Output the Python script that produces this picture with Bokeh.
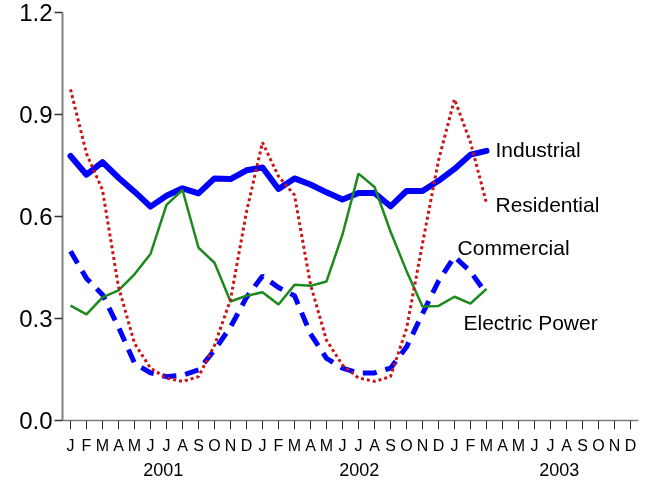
from bokeh.plotting import figure
from bokeh.models import Range1d, FixedTicker, Label, LinearAxis
from bokeh.embed import file_html
from bokeh.resources import INLINE

# ---- data ----
month_letters = ["J", "F", "M", "A", "M", "J", "J", "A", "S", "O", "N", "D"] * 3
years = ["2001", "2002", "2003"]
y_ticks = [0.0, 0.3, 0.6, 0.9, 1.2]
y_tick_labels = ["0.0", "0.3", "0.6", "0.9", "1.2"]

industrial = [0.778, 0.723, 0.760, 0.714, 0.673, 0.629, 0.661, 0.683, 0.668, 0.712, 0.710, 0.736,
              0.744, 0.681, 0.712, 0.694, 0.671, 0.650, 0.669, 0.669, 0.630, 0.675, 0.675, 0.705,
              0.740, 0.782, 0.793]
residential = [0.974, 0.785, 0.678, 0.393, 0.227, 0.154, 0.125, 0.115, 0.129, 0.221, 0.355, 0.614,
               0.818, 0.718, 0.663, 0.400, 0.236, 0.163, 0.125, 0.115, 0.129, 0.270, 0.520, 0.765,
               0.945, 0.818, 0.639]
commercial = [0.498, 0.418, 0.370, 0.275, 0.169, 0.140, 0.129, 0.133, 0.149, 0.207, 0.275, 0.362,
              0.425, 0.391, 0.367, 0.255, 0.183, 0.154, 0.140, 0.140, 0.154, 0.216, 0.314, 0.410,
              0.482, 0.438, 0.372]
electric = [0.338, 0.312, 0.362, 0.383, 0.430, 0.490, 0.634, 0.678, 0.508, 0.464, 0.350, 0.367,
            0.377, 0.341, 0.399, 0.396, 0.409, 0.547, 0.726, 0.687, 0.556, 0.440, 0.335, 0.337,
            0.364, 0.344, 0.387]
series_names = ["Industrial", "Residential", "Commercial", "Electric Power"]

# ---- layout helpers (positions, not data) ----
year_label_x = [5.8, 18.05, 30.55]
name_label_pos = [(26.56, 0.798), (26.56, 0.635), (24.19, 0.51), (24.56, 0.288)]

FONT = "Liberation Sans"

p = figure(width=645, height=481, x_range=Range1d(-0.5, 35.5), y_range=Range1d(0, 1.2),
           output_backend="svg", toolbar_location=None,
           min_border_left=62, min_border_right=7, min_border_top=12, min_border_bottom=61)
p.styles = {"position": "fixed", "top": "0px", "left": "0px"}
p.grid.visible = False
p.outline_line_color = None
p.background_fill_color = "white"
p.border_fill_color = "white"

# y axis
ya = p.yaxis[0]
ya.ticker = FixedTicker(ticks=y_ticks)
ya.major_label_overrides = {t: l for t, l in zip(y_ticks, y_tick_labels)}
ya.axis_line_color = "#808080"
ya.axis_line_width = 2
ya.major_tick_line_color = "#333333"
ya.major_tick_line_width = 1.5
ya.major_tick_out = 8
ya.major_tick_in = 0
ya.minor_tick_line_color = None
ya.major_label_text_font = FONT
ya.major_label_text_font_size = "24px"
ya.major_label_text_color = "black"
ya.major_label_standoff = 2

# x axis (months)
xa = p.xaxis[0]
n_months = len(month_letters)
xa.ticker = FixedTicker(ticks=list(range(n_months)))
xa.major_label_overrides = {i: m for i, m in enumerate(month_letters)}
xa.axis_line_color = "#808080"
xa.axis_line_width = 1.5
xa.major_tick_line_color = "#333333"
xa.major_tick_line_width = 1
xa.major_tick_out = 9
xa.major_tick_in = 0
xa.minor_tick_line_color = None
xa.major_label_text_font = FONT
xa.major_label_text_font_size = "16px"
xa.major_label_text_color = "black"
xa.major_label_standoff = 7

# second axis below for years
year_axis = LinearAxis(ticker=FixedTicker(ticks=year_label_x),
                       major_label_overrides={xp: yr for xp, yr in zip(year_label_x, years)})
year_axis.axis_line_color = None
year_axis.major_tick_line_color = None
year_axis.minor_tick_line_color = None
year_axis.major_tick_out = 0
year_axis.major_tick_in = 0
year_axis.major_label_standoff = 6
year_axis.major_label_text_font = FONT
year_axis.major_label_text_font_size = "18px"
year_axis.major_label_text_color = "black"
p.add_layout(year_axis, "below")

x = list(range(len(industrial)))

p.line(x, industrial, line_color="#0000FF", line_width=6, line_join="round", line_cap="round")
p.line(x, commercial, line_color="#0000FF", line_width=5, line_dash="14 9")
p.line(x, electric, line_color="#1c8a1c", line_width=2.5)
p.line(x, residential, line_color="#CC1414", line_width=3, line_dash="3 3")

for (lx, ly), name in zip(name_label_pos, series_names):
    p.add_layout(Label(x=lx, y=ly, text=name, text_align="left", text_baseline="middle",
                       text_font=FONT, text_font_size="21px", text_color="black"))

open("out.html", "w").write(file_html(p, INLINE))
